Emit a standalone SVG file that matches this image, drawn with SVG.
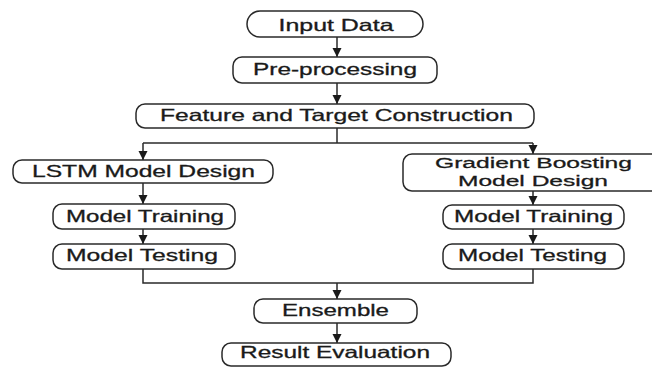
<svg xmlns="http://www.w3.org/2000/svg" width="652" height="367" viewBox="0 0 652 367">
<style>
.box{fill:#ffffff;stroke:#2a2a2a;stroke-width:1.5}
.lbl{font-family:"Liberation Sans",Arial,sans-serif;font-size:16.5px;fill:#1a1a1a;stroke:#1a1a1a;stroke-width:0.3;text-anchor:middle}
.sm{font-size:15.5px}
.ln{fill:none;stroke:#2a2a2a;stroke-width:1.5}
</style>
<defs>
<marker id="ah" viewBox="0 0 10 10" refX="10" refY="5" markerWidth="9" markerHeight="10" markerUnits="userSpaceOnUse" orient="auto">
<path d="M0,0 L10,5 L0,10 z" fill="#1a1a1a"/>
</marker>
</defs>
<rect width="652" height="367" fill="#ffffff"/>
<g id="connectors">
<path class="ln" d="M337,37 V57" marker-end="url(#ah)"/>
<path class="ln" d="M337,83 V104" marker-end="url(#ah)"/>
<path class="ln" d="M337,128 V143"/>
<path class="ln" d="M143,143 H533"/>
<path class="ln" d="M143,143 V160" marker-end="url(#ah)"/>
<path class="ln" d="M533,143 V154" marker-end="url(#ah)"/>
<path class="ln" d="M143,183 V204" marker-end="url(#ah)"/>
<path class="ln" d="M143,229 V244" marker-end="url(#ah)"/>
<path class="ln" d="M533,191 V205" marker-end="url(#ah)"/>
<path class="ln" d="M533,229 V244" marker-end="url(#ah)"/>
<path class="ln" d="M143,269 V283 H533 V269"/>
<path class="ln" d="M337,283 V299" marker-end="url(#ah)"/>
<path class="ln" d="M337,323 V343" marker-end="url(#ah)"/>
</g>
<g id="input-data">
<rect class="box" x="247" y="11" width="176" height="26" rx="13"/>
<text class="lbl" x="336" y="31" textLength="115" lengthAdjust="spacingAndGlyphs">Input Data</text>
</g>
<g id="pre-processing">
<rect class="box" x="233" y="57" width="204" height="26" rx="9"/>
<text class="lbl" x="335" y="75" textLength="164" lengthAdjust="spacingAndGlyphs">Pre-processing</text>
</g>
<g id="feature-target">
<rect class="box" x="136" y="104" width="398" height="24" rx="9"/>
<text class="lbl" x="336.5" y="121" textLength="353" lengthAdjust="spacingAndGlyphs">Feature and Target Construction</text>
</g>
<g id="lstm-design">
<rect class="box" x="13" y="160" width="260" height="23" rx="9"/>
<text class="lbl" x="143.5" y="177" textLength="223" lengthAdjust="spacingAndGlyphs">LSTM Model Design</text>
</g>
<g id="lstm-training">
<rect class="box" x="53" y="204" width="182" height="25" rx="9"/>
<text class="lbl" x="145" y="222" textLength="158" lengthAdjust="spacingAndGlyphs">Model Training</text>
</g>
<g id="lstm-testing">
<rect class="box" x="53" y="244" width="182" height="25" rx="9"/>
<text class="lbl" x="142" y="261" textLength="152" lengthAdjust="spacingAndGlyphs">Model Testing</text>
</g>
<g id="gb-design">
<rect class="box" x="403" y="154" width="262" height="37" rx="9"/>
<text class="lbl sm" x="533.5" y="168" textLength="197" lengthAdjust="spacingAndGlyphs">Gradient Boosting</text>
<text class="lbl sm" x="533" y="186" textLength="150" lengthAdjust="spacingAndGlyphs">Model Design</text>
</g>
<g id="gb-training">
<rect class="box" x="443" y="205" width="181" height="24" rx="9"/>
<text class="lbl" x="533.5" y="222" textLength="159" lengthAdjust="spacingAndGlyphs">Model Training</text>
</g>
<g id="gb-testing">
<rect class="box" x="443" y="244" width="181" height="25" rx="9"/>
<text class="lbl" x="532.5" y="261" textLength="149" lengthAdjust="spacingAndGlyphs">Model Testing</text>
</g>
<g id="ensemble">
<rect class="box" x="254" y="299" width="163" height="24" rx="9"/>
<text class="lbl" x="335.5" y="316" textLength="107" lengthAdjust="spacingAndGlyphs">Ensemble</text>
</g>
<g id="result-evaluation">
<rect class="box" x="222" y="343" width="229" height="23" rx="9"/>
<text class="lbl" x="335" y="358" textLength="190" lengthAdjust="spacingAndGlyphs">Result Evaluation</text>
</g>
</svg>
